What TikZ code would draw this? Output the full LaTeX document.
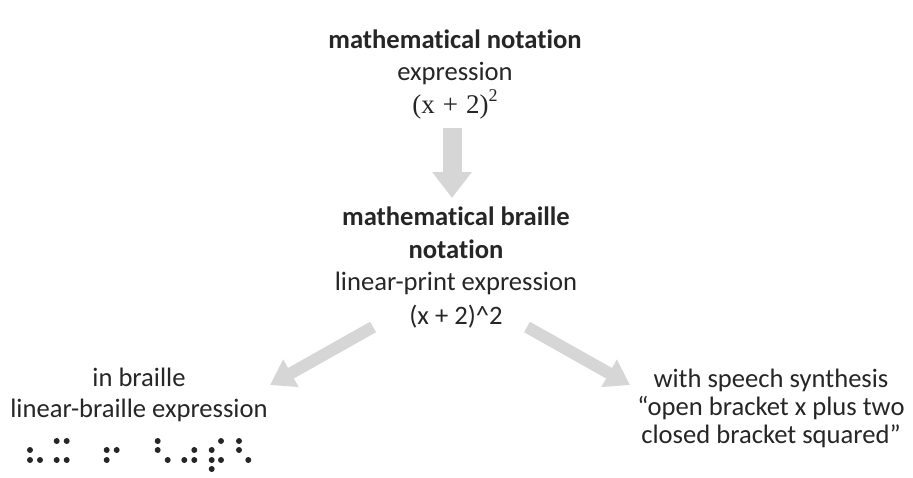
\documentclass[tikz,border=0pt]{standalone}
\usepackage{fontspec}
\setmainfont{Carlito}[Ligatures=NoCommon]
\newfontfamily\mathserif{Liberation Serif}
\usetikzlibrary{arrows.meta}
\definecolor{txt}{HTML}{262626}
\definecolor{arr}{HTML}{D6D6D6}
\tikzset{
  lbl/.style={anchor=base, inner sep=0pt, text=txt, font=\fontsize{26.6}{32}\selectfont},
  bld/.style={lbl, font=\fontsize{26.6}{32}\selectfont\bfseries},
  mth/.style={lbl, font=\fontsize{27}{32}\selectfont\mathserif},
  bigarrow/.style={draw=arr, line width=19pt, -{Triangle[width=38pt,length=26pt]}},
  diagarrow/.style={draw=arr, line width=12pt, -{Triangle[width=30pt,length=24pt]}},
  dot/.style={fill=txt, draw=none}
}
\begin{document}
\begin{tikzpicture}[x=1pt,y=-1pt]
\useasboundingbox[fill=white] (0,0) rectangle (913,477);
% top block
\node[bld] (t1) at (455,48) {mathematical notation};
\node[lbl] (t2) at (455,80) {expression};
\node[mth] (t3) at (455,113) {(x\hspace{0.3em}+\hspace{0.3em}2)\raisebox{0.42em}{\fontsize{18}{18}\selectfont 2}};
% middle block
\node[bld] (m1) at (456,225) {mathematical braille};
\node[bld] (m2) at (456,258) {notation};
\node[lbl] (m3) at (456,290) {linear-print expression};
\node[lbl] (m4) at (456,324) {(x + 2)\^{}2};
% left block
\node[lbl] (l1) at (139,386) {in braille};
\node[lbl] (l2) at (139,417) {linear-braille expression};
% right block
\node[lbl] (r1) at (771,387) {with speech synthesis};
\node[lbl] (r2) at (771,415) {\char"201C open bracket x plus two};
\node[lbl] (r3) at (771,443) {closed bracket squared\char"201D};
% arrow end points
\coordinate (a1s) at (452,128);
\coordinate (a1e) at (452,198);
\coordinate (a2s) at (373,327);
\coordinate (a2e) at (270,385);
\coordinate (a3s) at (527,327);
\coordinate (a3e) at (630,385);
\draw[bigarrow] (a1s) -- (a1e);
\draw[diagarrow] (a2s) -- (a2e);
\draw[diagarrow] (a3s) -- (a3e);
% braille dots
\foreach \x/\y in {56.7/441,66.7/441,157.7/441,221/441,239/441,
  30/450,106.7/450,116.7/450,157.7/450,194.3/450,211.7/450,239/450,
  30/460,40/460,56.7/460,66.7/460,106.7/460,167.7/460,184.3/460,194.3/460,211.7/460,221/460,248.3/460,
  211.7/469}
  \fill[dot] (\x,\y) circle (3);
\end{tikzpicture}
\end{document}
